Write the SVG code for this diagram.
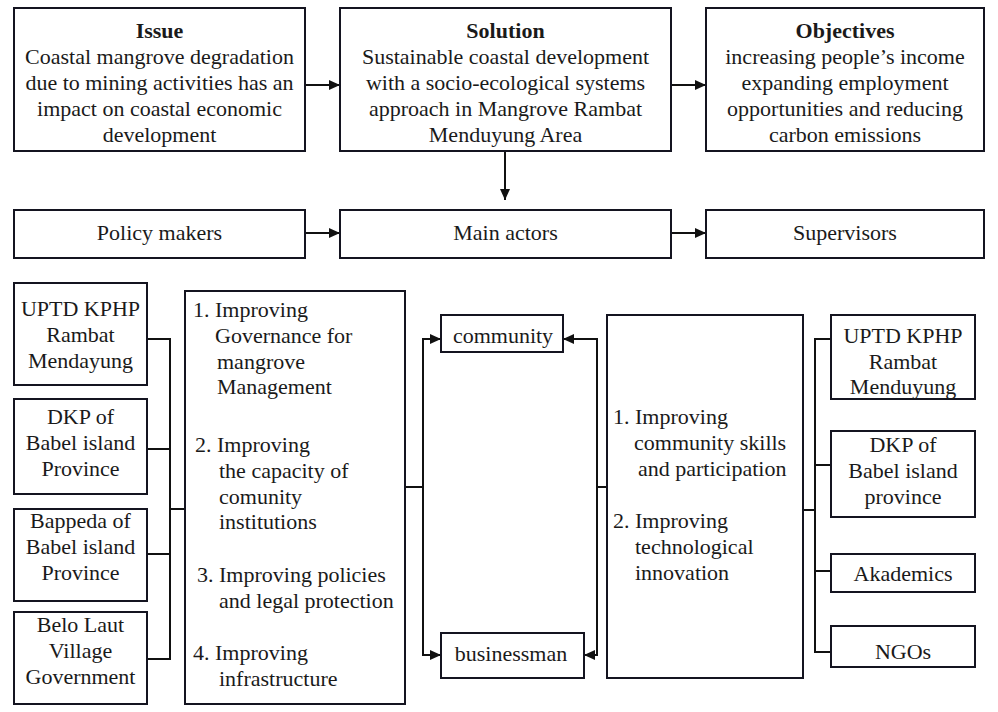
<svg xmlns="http://www.w3.org/2000/svg" width="998" height="712" viewBox="0 0 998 712">
<defs>
<marker id="arr" markerUnits="userSpaceOnUse" markerWidth="11" markerHeight="10" refX="11" refY="5" orient="auto">
<path d="M0,0 L11,5 L0,10 z" fill="#111"/>
</marker>
</defs>
<style>
.box{fill:#fff;stroke:#141420;stroke-width:2}
text{font-family:"Liberation Serif","Times New Roman",serif;font-size:22px;fill:#1a1a1a}
.c{text-anchor:middle}
.b{font-weight:bold}
.ln{fill:none;stroke:#111;stroke-width:2}
.ar{fill:none;stroke:#111;stroke-width:2;marker-end:url(#arr)}
</style>
<rect width="998" height="712" fill="#fff"/>

<g id="connectors">
<line class="ar" x1="305" y1="85" x2="340" y2="85"/>
<line class="ar" x1="671" y1="85" x2="706" y2="85"/>
<line class="ar" x1="505" y1="151" x2="505" y2="200"/>
<line class="ar" x1="305" y1="233" x2="340" y2="233"/>
<line class="ar" x1="671" y1="233" x2="706" y2="233"/>
<polyline class="ln" points="147,339 170,339"/>
<polyline class="ln" points="147,449 170,449"/>
<polyline class="ln" points="147,554 170,554"/>
<polyline class="ln" points="147,659 170,659"/>
<line class="ln" x1="170" y1="338" x2="170" y2="660"/>
<line class="ln" x1="170" y1="509" x2="185" y2="509"/>
<line class="ln" x1="405" y1="487" x2="423" y2="487"/>
<polyline class="ar" points="441,339 423,339 423,655 441,655" style="marker-end:none"/>
<line class="ar" x1="423" y1="339" x2="441" y2="339"/>
<line class="ar" x1="423" y1="655" x2="441" y2="655"/>
<line class="ln" x1="607" y1="487" x2="597" y2="487"/>
<polyline class="ln" points="580,339 597,339 597,655 590,655"/>
<line class="ar" x1="597" y1="339" x2="563" y2="339"/>
<line class="ar" x1="597" y1="655" x2="584" y2="655"/>
<line class="ln" x1="803" y1="510" x2="815" y2="510"/>
<line class="ln" x1="815" y1="338" x2="815" y2="653"/>
<line class="ln" x1="815" y1="339" x2="831" y2="339"/>
<line class="ln" x1="815" y1="465" x2="831" y2="465"/>
<line class="ln" x1="815" y1="571" x2="831" y2="571"/>
<line class="ln" x1="815" y1="652" x2="831" y2="652"/>
</g>

<g id="issue">
<rect class="box" x="14" y="8" width="291" height="143"/>
<text class="c b" x="159.5" y="38">Issue</text>
<text class="c" x="159.5" y="64">Coastal mangrove degradation</text>
<text class="c" x="159.5" y="90">due to mining activities has an</text>
<text class="c" x="159.5" y="116">impact on coastal economic</text>
<text class="c" x="159.5" y="142">development</text>
</g>
<g id="solution">
<rect class="box" x="340" y="8" width="331" height="143"/>
<text class="c b" x="505.5" y="38">Solution</text>
<text class="c" x="505.5" y="64">Sustainable coastal development</text>
<text class="c" x="505.5" y="90">with a socio-ecological systems</text>
<text class="c" x="505.5" y="116">approach in Mangrove Rambat</text>
<text class="c" x="505.5" y="142">Menduyung Area</text>
</g>
<g id="objectives">
<rect class="box" x="706" y="8" width="278" height="143"/>
<text class="c b" x="845" y="38">Objectives</text>
<text class="c" x="845" y="64">increasing people’s income</text>
<text class="c" x="845" y="90">expanding employment</text>
<text class="c" x="845" y="116">opportunities and reducing</text>
<text class="c" x="845" y="142">carbon emissions</text>
</g>

<g id="policy-makers">
<rect class="box" x="14" y="210" width="291" height="48"/>
<text class="c" x="159.5" y="240">Policy makers</text>
</g>
<g id="main-actors">
<rect class="box" x="340" y="210" width="331" height="48"/>
<text class="c" x="505.5" y="240">Main actors</text>
</g>
<g id="supervisors">
<rect class="box" x="706" y="210" width="278" height="48"/>
<text class="c" x="845" y="240">Supervisors</text>
</g>

<g id="uptd-left">
<rect class="box" x="14" y="283" width="133" height="102"/>
<text class="c" x="80.5" y="316">UPTD KPHP</text>
<text class="c" x="80.5" y="342">Rambat</text>
<text class="c" x="80.5" y="368">Mendayung</text>
</g>
<g id="dkp-left">
<rect class="box" x="14" y="399" width="133" height="95"/>
<text class="c" x="80.5" y="424">DKP of</text>
<text class="c" x="80.5" y="450">Babel island</text>
<text class="c" x="80.5" y="476">Province</text>
</g>
<g id="bappeda">
<rect class="box" x="14" y="509" width="133" height="92"/>
<text class="c" x="80.5" y="528">Bappeda of</text>
<text class="c" x="80.5" y="554">Babel island</text>
<text class="c" x="80.5" y="580">Province</text>
</g>
<g id="belo-laut">
<rect class="box" x="14" y="612" width="133" height="92"/>
<text class="c" x="80.5" y="632">Belo Laut</text>
<text class="c" x="80.5" y="658">Village</text>
<text class="c" x="80.5" y="684">Government</text>
</g>

<g id="policy-programs">
<rect class="box" x="185" y="291" width="220" height="413"/>
<text x="193" y="317">1. Improving</text>
<text x="215" y="343">Governance for</text>
<text x="217" y="369">mangrove</text>
<text x="217" y="394">Management</text>
<text x="195" y="452">2. Improving</text>
<text x="219" y="478">the capacity of</text>
<text x="219" y="504">comunity</text>
<text x="219" y="529">institutions</text>
<text x="197" y="582">3. Improving policies</text>
<text x="219" y="608">and legal protection</text>
<text x="193" y="660">4. Improving</text>
<text x="219" y="686">infrastructure</text>
</g>

<g id="community">
<rect class="box" x="441" y="315" width="122" height="37"/>
<text class="c" x="503" y="343">community</text>
</g>
<g id="businessman">
<rect class="box" x="441" y="633" width="143" height="45"/>
<text class="c" x="511" y="661">businessman</text>
</g>

<g id="supervision-programs">
<rect class="box" x="607" y="315" width="196" height="363"/>
<text x="613" y="424">1. Improving</text>
<text x="634" y="450">community skills</text>
<text x="638" y="476">and participation</text>
<text x="613" y="528">2. Improving</text>
<text x="635" y="554">technological</text>
<text x="635" y="580">innovation</text>
</g>

<g id="uptd-right">
<rect class="box" x="831" y="315" width="144" height="84"/>
<text class="c" x="903" y="343">UPTD KPHP</text>
<text class="c" x="903" y="369">Rambat</text>
<text class="c" x="903" y="394">Menduyung</text>
</g>
<g id="dkp-right">
<rect class="box" x="831" y="431" width="144" height="86"/>
<text class="c" x="903" y="452">DKP of</text>
<text class="c" x="903" y="478">Babel island</text>
<text class="c" x="903" y="504">province</text>
</g>
<g id="akademics">
<rect class="box" x="831" y="554" width="144" height="38"/>
<text class="c" x="903" y="581">Akademics</text>
</g>
<g id="ngos">
<rect class="box" x="831" y="626" width="144" height="41"/>
<text class="c" x="903" y="659">NGOs</text>
</g>
</svg>
